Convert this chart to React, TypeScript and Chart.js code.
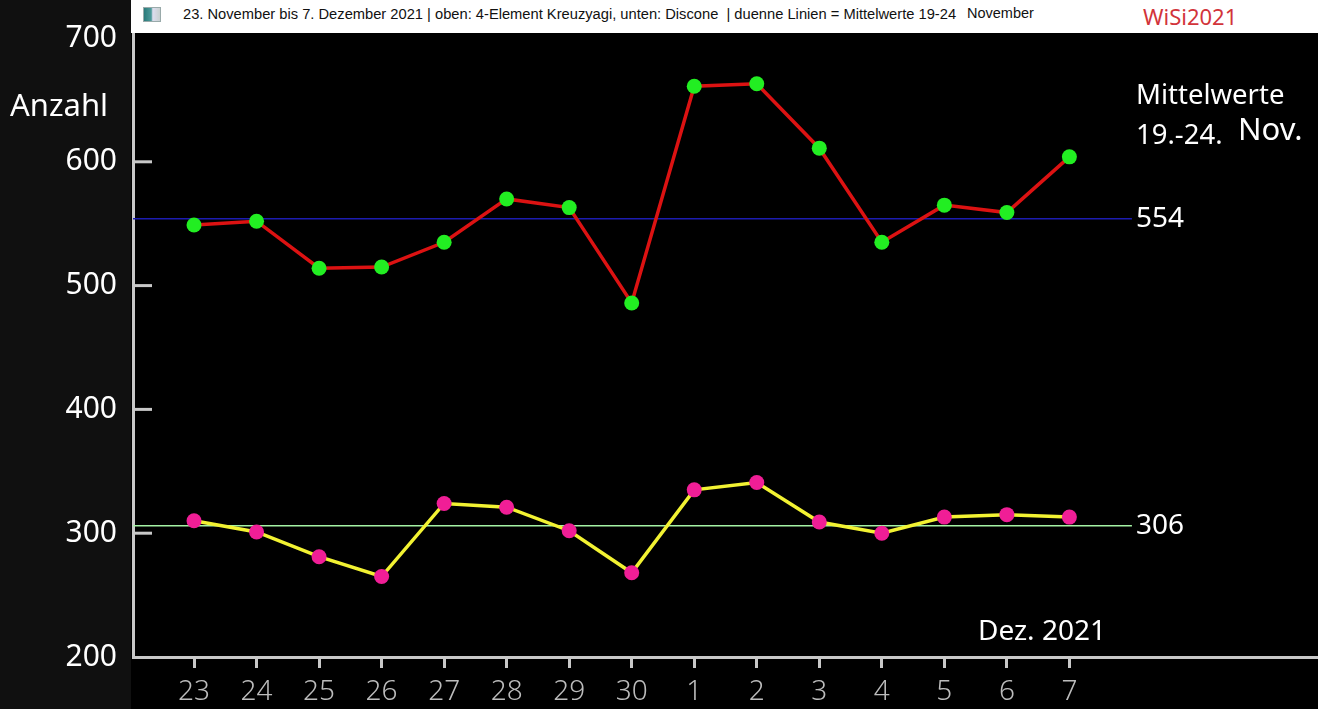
import { useEffect, useRef } from "react";
import { Chart, registerables } from "chart.js";

Chart.register(...registerables);

const days = ["23", "24", "25", "26", "27", "28", "29", "30", "1", "2", "3", "4", "5", "6", "7"];
const kreuzyagi = [549, 552, 514, 515, 535, 570, 563, 486, 661, 663, 611, 535, 565, 559, 604];
const discone = [310, 301, 281, 265, 324, 321, 302, 268, 335, 341, 309, 300, 313, 315, 313];
const meanKreuzyagi = 554;
const meanDiscone = 306;
const yTicks = [200, 300, 400, 500, 600, 700];

const FONT = "'Noto Sans', 'Open Sans', sans-serif";

// pixel layout of the original screenshot (area runs 133..~1310, one day = 62.5px)
const X_MIN = (133 - 194) / 62.5;
const X_MAX = (1310 - 194) / 62.5;
const MEAN_END = 15;

const overlay = {
  id: "overlay",
  beforeDraw(chart: Chart) {
    const { ctx, width, height } = chart;
    ctx.save();
    ctx.fillStyle = "#000";
    ctx.fillRect(0, 0, width, height);
    ctx.fillStyle = "#101010";
    ctx.fillRect(0, 0, 131, height);
    ctx.restore();
  },
  afterDatasetsDraw(chart: Chart) {
    const { ctx, chartArea, width } = chart;
    const y = chart.scales.y;
    ctx.save();
    ctx.strokeStyle = "#c8c8c8";
    ctx.lineWidth = 3;
    [300, 400, 500, 600].forEach((v) => {
      const py = y.getPixelForValue(v);
      ctx.beginPath();
      ctx.moveTo(chartArea.left, py);
      ctx.lineTo(chartArea.left + 19, py);
      ctx.stroke();
    });
    // axis line runs to the window edge
    const axisY = Math.round(chartArea.bottom - 1.5) + 1.5;
    ctx.beginPath();
    ctx.moveTo(chartArea.right - 2, axisY);
    ctx.lineTo(width, axisY);
    ctx.stroke();

    ctx.fillStyle = "#fff";
    ctx.textBaseline = "middle";
    ctx.textAlign = "left";
    ctx.font = `31px ${FONT}`;
    ctx.fillText("Anzahl", 10, 107);
    ctx.font = `27.5px ${FONT}`;
    ctx.fillText("Mittelwerte", 1136, 96);
    ctx.fillText("19.-24.", 1136, 136);
    ctx.font = `31px ${FONT}`;
    ctx.fillText("Nov.", 1238, 131);
    ctx.font = `28px ${FONT}`;
    ctx.fillText(String(meanKreuzyagi), 1136, y.getPixelForValue(meanKreuzyagi));
    ctx.fillText(String(meanDiscone), 1136, y.getPixelForValue(meanDiscone));
    ctx.fillText("Dez. 2021", 978, 632);
    ctx.restore();
  }
};

export default function App() {
  const canvasRef = useRef<HTMLCanvasElement | null>(null);

  useEffect(() => {
    document.body.style.margin = "0";
    if (!canvasRef.current) return;

    const chart = new Chart(canvasRef.current, {
      type: "line",
      data: {
        datasets: [
          {
            data: kreuzyagi.map((v, i) => ({ x: i, y: v })),
            borderColor: "#dc1212",
            borderWidth: 3.5,
            pointBackgroundColor: "#22ee22",
            pointBorderWidth: 0,
            pointRadius: 7.5,
            order: 0
          },
          {
            data: discone.map((v, i) => ({ x: i, y: v })),
            borderColor: "#f2f232",
            borderWidth: 3.5,
            pointBackgroundColor: "#f01e96",
            pointBorderWidth: 0,
            pointRadius: 7.5,
            order: 0
          },
          {
            data: [
              { x: X_MIN, y: meanKreuzyagi },
              { x: MEAN_END, y: meanKreuzyagi }
            ],
            borderColor: "#1c1cb0",
            borderWidth: 1.5,
            pointRadius: 0,
            order: 1
          },
          {
            data: [
              { x: X_MIN, y: meanDiscone },
              { x: MEAN_END, y: meanDiscone }
            ],
            borderColor: "#a4f2a4",
            borderWidth: 1.5,
            pointRadius: 0,
            order: 1
          }
        ]
      },
      options: {
        responsive: true,
        maintainAspectRatio: false,
        animation: false,
        layout: { padding: { top: 33, left: 0, right: 0, bottom: 0 } },
        plugins: {
          legend: { display: false },
          tooltip: { enabled: false }
        },
        scales: {
          x: {
            type: "linear",
            min: X_MIN,
            max: X_MAX,
            afterBuildTicks: (scale) => {
              scale.ticks = days.map((_, i) => ({ value: i }));
            },
            afterFit: (scale) => {
              scale.height = 52;
            },
            grid: {
              drawOnChartArea: false,
              tickLength: 11,
              lineWidth: 3,
              color: "#c8c8c8"
            },
            border: { display: true, color: "#c8c8c8", width: 3 },
            ticks: {
              autoSkip: false,
              maxRotation: 0,
              padding: 7,
              color: "#bcbcbc",
              font: { family: FONT, size: 28, weight: 300 },
              callback: (v) => days[Number(v)] ?? ""
            }
          },
          y: {
            min: 200,
            max: 200 + (657 - 33) / 1.24,
            afterBuildTicks: (scale) => {
              scale.ticks = yTicks.map((v) => ({ value: v }));
            },
            afterFit: (scale) => {
              scale.width = 133;
            },
            grid: { display: false, drawTicks: false },
            border: { display: true, color: "#c8c8c8", width: 3 },
            ticks: {
              padding: 16,
              color: "#ffffff",
              font: { family: FONT, size: 30 }
            }
          }
        }
      },
      plugins: [overlay]
    });

    return () => chart.destroy();
  }, []);

  return (
    <div style={{ position: "relative", width: 1318, height: 709, overflow: "hidden" }}>
      <canvas ref={canvasRef} />
      <div
        style={{
          position: "absolute",
          left: 131,
          top: 0,
          width: 1187,
          height: 33,
          background: "#fff",
          fontFamily: "'Liberation Sans Narrow', 'Liberation Sans', sans-serif",
          color: "#111"
        }}
      >
        <div
          style={{
            position: "absolute",
            left: 12,
            top: 7,
            width: 16,
            height: 13,
            border: "1px solid #9aa",
            background: "linear-gradient(90deg, #2a7a7a 0%, #4c9a9a 45%, #dde 55%, #c8d0d0 100%)"
          }}
        />
        <span style={{ position: "absolute", left: 52, top: 6, fontSize: 14.7, whiteSpace: "pre" }}>
          {"23. November bis 7. Dezember 2021 | oben: 4-Element Kreuzyagi, unten: Discone  | duenne Linien = Mittelwerte 19-24"}
        </span>
        <span style={{ position: "absolute", left: 836, top: 5, fontSize: 14.5, whiteSpace: "pre", fontFamily: "'Liberation Sans', sans-serif" }}>
          November
        </span>
        <span style={{ position: "absolute", left: 1012, top: 1, fontSize: 22, color: "#d2343a", fontFamily: "'Noto Sans', sans-serif" }}>
          WiSi2021
        </span>
      </div>
    </div>
  );
}
